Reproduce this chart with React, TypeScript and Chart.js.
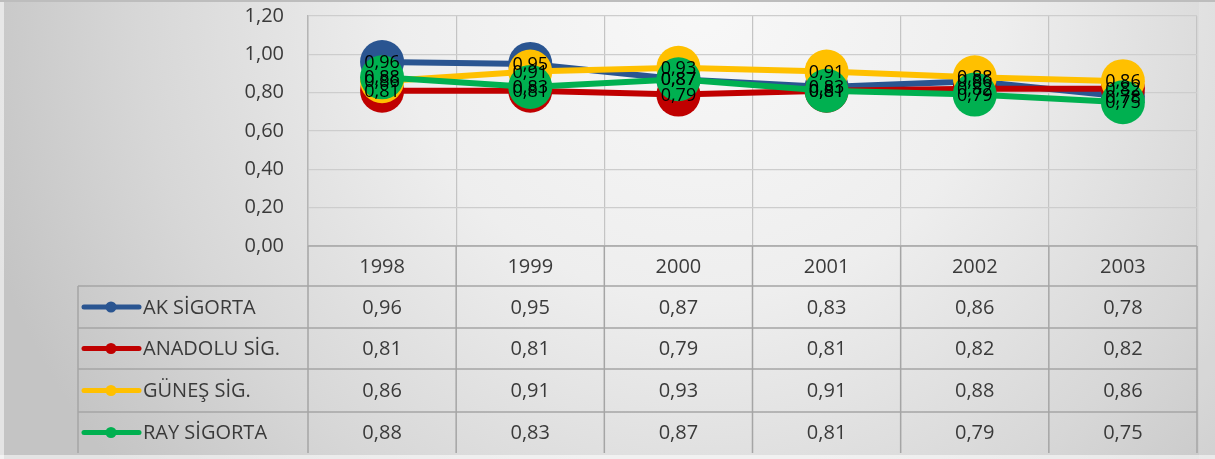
import React, { useEffect, useRef } from "react";
import { Chart, registerables } from "chart.js";

Chart.register(...registerables);

const years = ["1998", "1999", "2000", "2001", "2002", "2003"];
const seriesNames = ["AK SİGORTA", "ANADOLU SİG.", "GÜNEŞ SİG.", "RAY SİGORTA"];
const akSigorta = [0.96, 0.95, 0.87, 0.83, 0.86, 0.78];
const anadoluSig = [0.81, 0.81, 0.79, 0.81, 0.82, 0.82];
const gunesSig = [0.86, 0.91, 0.93, 0.91, 0.88, 0.86];
const raySigorta = [0.88, 0.83, 0.87, 0.81, 0.79, 0.75];
const seriesValues = [akSigorta, anadoluSig, gunesSig, raySigorta];
const seriesColors = ["#2A5591", "#C00000", "#FFC000", "#00B050"];
const yMin = 0;
const yMax = 1.2;
const yStep = 0.2;

const FONT = "'Open Sans', 'DejaVu Sans', sans-serif";
const TEXT = "#3a3a3a";
const MARKER_R = 22;
const fmt = (v: number) => v.toFixed(2).replace(".", ",");

const bgPlugin = {
  id: "bg",
  beforeDraw(chart: any) {
    const { ctx, width, height } = chart;
    ctx.save();
    const g = ctx.createRadialGradient(700, 0, 0, 700, 0, 750);
    g.addColorStop(0, "#f8f8f8");
    g.addColorStop(0.4, "#eeeeee");
    g.addColorStop(0.75, "#d7d7d7");
    g.addColorStop(1, "#c4c4c4");
    ctx.fillStyle = g;
    ctx.fillRect(0, 0, width, height);
    ctx.fillStyle = "rgba(255,255,255,0.55)";
    ctx.fillRect(0, 0, 4, height);
    ctx.fillRect(0, height - 4, width, 4);
    ctx.fillStyle = "rgba(255,255,255,0.15)";
    ctx.fillRect(1199, 0, width - 1199, height);
    ctx.fillStyle = "#bdbdbd";
    ctx.fillRect(0, 0, width, 2);
    ctx.restore();
  },
};

const tablePlugin = {
  id: "dataTable",
  beforeDatasetsDraw(chart: any) {
    const { ctx, chartArea } = chart;
    const xs = chart.scales.x;
    const left = chartArea.left;
    const right = chartArea.right;
    const top = chartArea.bottom;
    const legendLeft = 78;
    const rows = [top, top + 40, top + 82, top + 123, top + 166, top + 207];
    ctx.save();
    ctx.strokeStyle = "#a5a5a5";
    ctx.lineWidth = 1.5;
    ctx.beginPath();
    ctx.moveTo(left, top);
    ctx.lineTo(right, top);
    for (let r = 1; r <= 4; r++) {
      ctx.moveTo(legendLeft, rows[r]);
      ctx.lineTo(right, rows[r]);
    }
    ctx.moveTo(legendLeft, rows[1]);
    ctx.lineTo(legendLeft, rows[5]);
    const step = (right - left) / years.length;
    for (let i = 0; i <= years.length; i++) {
      const x = left + step * i;
      ctx.moveTo(x, top);
      ctx.lineTo(x, rows[5]);
    }
    ctx.stroke();

    ctx.fillStyle = TEXT;
    ctx.font = `20px ${FONT}`;
    ctx.textAlign = "center";
    ctx.textBaseline = "middle";
    years.forEach((y, i) => {
      ctx.fillText(y, xs.getPixelForValue(i), (rows[0] + rows[1]) / 2 + 1);
    });
    seriesValues.forEach((vals, s) => {
      const cy = (rows[s + 1] + rows[s + 2]) / 2 + 1;
      vals.forEach((v, i) => {
        ctx.fillStyle = TEXT;
        ctx.fillText(fmt(v), xs.getPixelForValue(i), cy);
      });
      ctx.strokeStyle = seriesColors[s];
      ctx.lineWidth = 5;
      ctx.lineCap = "round";
      ctx.beginPath();
      ctx.moveTo(84, cy - 1);
      ctx.lineTo(139, cy - 1);
      ctx.stroke();
      ctx.fillStyle = seriesColors[s];
      ctx.beginPath();
      ctx.arc(111, cy - 1, 5.5, 0, Math.PI * 2);
      ctx.fill();
      ctx.fillStyle = TEXT;
      ctx.textAlign = "left";
      ctx.fillText(seriesNames[s], 143, cy);
      ctx.textAlign = "center";
    });
    ctx.restore();
  },
};

// big round markers drawn right after each series' line (Excel-like order)
const markerPlugin = {
  id: "bigMarkers",
  afterDatasetDraw(chart: any, args: any) {
    const { ctx } = chart;
    const s = args.index;
    ctx.save();
    ctx.fillStyle = seriesColors[s];
    args.meta.data.forEach((pt: any) => {
      ctx.beginPath();
      ctx.arc(pt.x, pt.y, MARKER_R, 0, Math.PI * 2);
      ctx.fill();
    });
    ctx.restore();
  },
};

const labelPlugin = {
  id: "pointLabels",
  afterDatasetsDraw(chart: any) {
    const { ctx } = chart;
    ctx.save();
    ctx.fillStyle = "#000000";
    ctx.font = `18px ${FONT}`;
    ctx.textAlign = "center";
    ctx.textBaseline = "middle";
    seriesValues.forEach((vals, s) => {
      const meta = chart.getDatasetMeta(s);
      meta.data.forEach((pt: any, i: number) => {
        ctx.fillText(fmt(vals[i]), pt.x, pt.y + 1);
      });
    });
    ctx.restore();
  },
};

export default function App() {
  const ref = useRef<HTMLCanvasElement | null>(null);
  useEffect(() => {
    if (!ref.current) return;
    const chart = new Chart(ref.current, {
      type: "line",
      data: {
        labels: years,
        datasets: seriesValues.map((vals, s) => ({
          label: seriesNames[s],
          data: vals,
          borderColor: seriesColors[s],
          backgroundColor: seriesColors[s],
          borderWidth: 6,
          pointRadius: 0,
          pointHoverRadius: 0,
          tension: 0,
          order: 4 - s,
          clip: false as any,
        })),
      },
      options: {
        responsive: false,
        animation: false,
        layout: { padding: { top: 16, right: 18, left: 0, bottom: 0 } },
        plugins: {
          legend: { display: false },
          tooltip: { enabled: false },
        },
        scales: {
          x: {
            type: "category",
            offset: true,
            grid: { display: true, offset: true, color: "#c4c4c4", lineWidth: 1.2, drawTicks: false },
            border: { display: false },
            ticks: { display: false },
            afterFit: (scale: any) => {
              scale.height = 213;
            },
          },
          y: {
            min: yMin,
            max: yMax,
            ticks: {
              stepSize: yStep,
              padding: 1,
              color: TEXT,
              font: { family: FONT, size: 20 },
              callback: (v: any) => fmt(Number(v)),
            },
            grid: {
              color: "#cdcdcd",
              lineWidth: 1.2,
              drawTicks: true,
              tickLength: 23,
              tickColor: "rgba(0,0,0,0)",
            },
            border: { display: true, color: "#b5b5b5", width: 1.5 },
            afterFit: (scale: any) => {
              scale.width = 308;
            },
          },
        },
      },
      plugins: [bgPlugin, tablePlugin, markerPlugin, labelPlugin],
    });
    return () => chart.destroy();
  }, []);
  return (
    <div style={{ position: "fixed", left: 0, top: 0, width: 1215, height: 459 }}>
      <canvas ref={ref} width={1215} height={459} />
    </div>
  );
}
